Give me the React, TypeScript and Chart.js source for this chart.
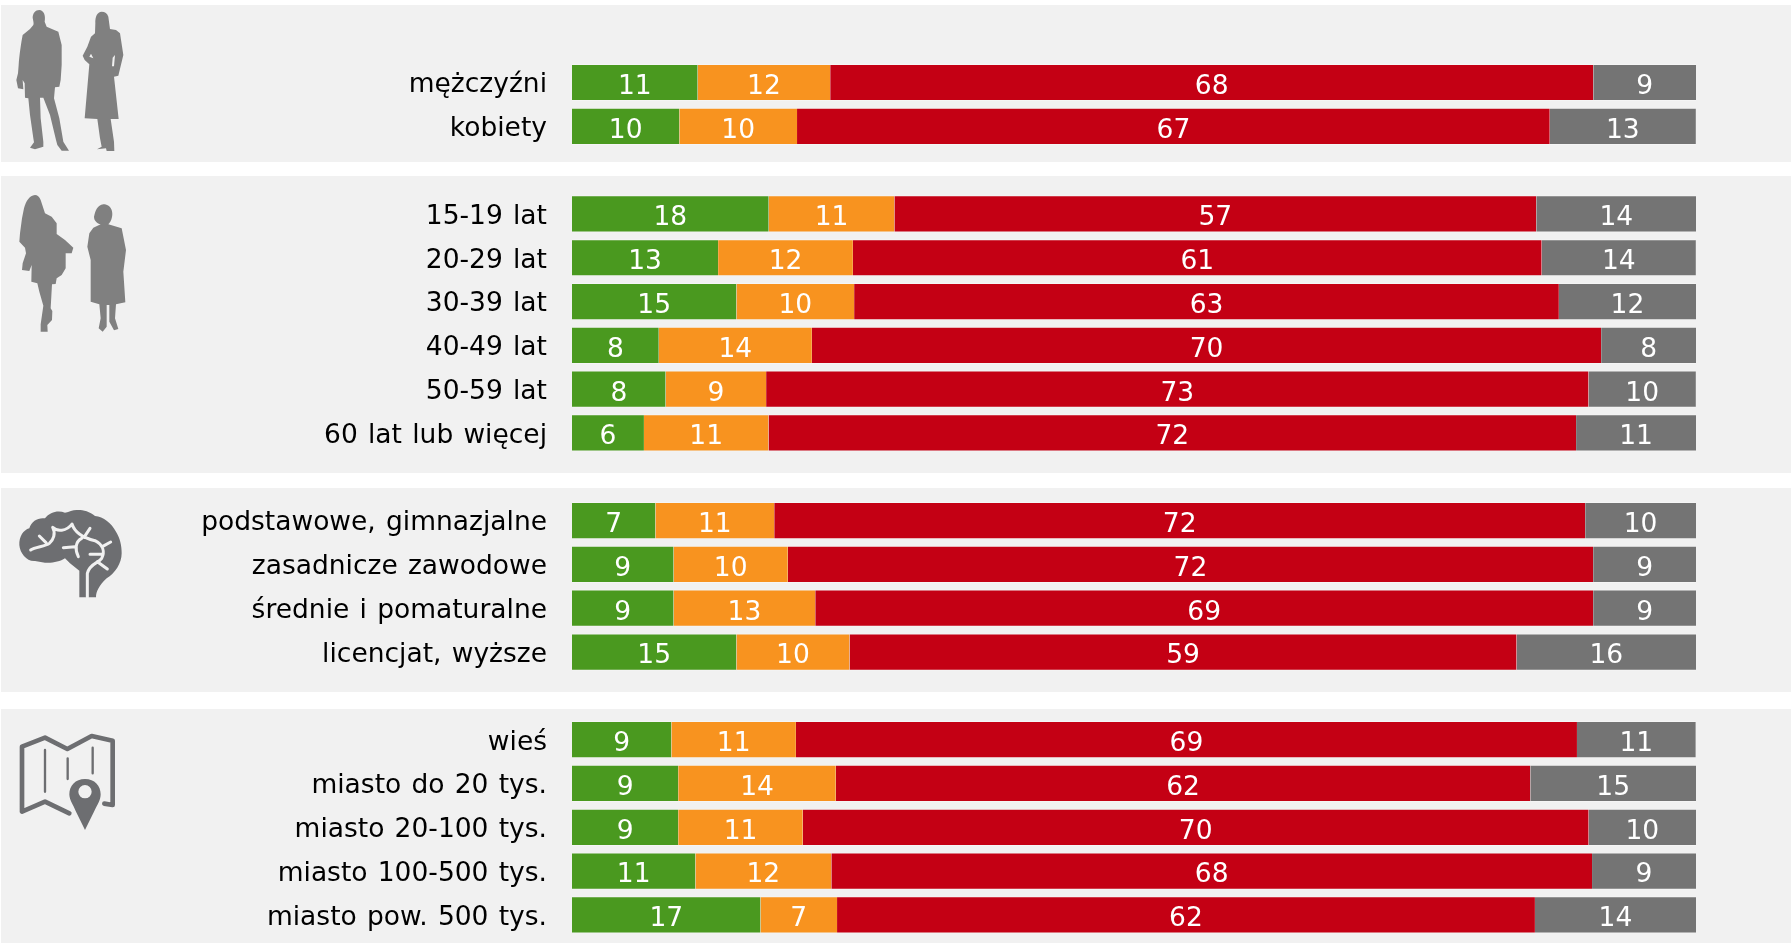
import React, { useEffect, useRef } from "react";
import { Chart, registerables } from "chart.js";

Chart.register(...registerables);

const categories = [
  "mężczyźni", "kobiety", "",
  "15-19 lat", "20-29 lat", "30-39 lat", "40-49 lat", "50-59 lat", "60 lat lub więcej", "",
  "podstawowe, gimnazjalne", "zasadnicze zawodowe", "średnie i pomaturalne", "licencjat, wyższe", "",
  "wieś", "miasto do 20 tys.", "miasto 20-100 tys.", "miasto 100-500 tys.", "miasto pow. 500 tys.",
];

const greenValues = [11.18, 9.55, null, 17.5, 13.0, 14.63, 7.72, 8.33, 6.4, null, 7.42, 9.04, 9.04, 14.63, null, 8.84, 9.45, 9.45, 10.98, 16.77];
const orangeValues = [11.79, 10.47, null, 11.18, 11.99, 10.47, 13.62, 8.94, 11.08, null, 10.57, 10.16, 12.6, 10.06, null, 11.08, 14.02, 11.08, 12.09, 6.81];
const redValues = [67.89, 66.97, null, 57.11, 61.28, 62.7, 70.22, 73.17, 71.85, null, 72.15, 71.65, 69.21, 59.35, null, 69.49, 61.79, 69.92, 67.68, 62.09];
const grayValues = [9.15, 13.0, null, 14.23, 13.72, 12.2, 8.44, 9.55, 10.67, null, 9.86, 9.15, 9.15, 15.96, null, 10.57, 14.74, 9.55, 9.25, 14.33];

const seriesColors = ["#4A991F", "#F8931F", "#C40014", "#747474"];
const FONT = "'DejaVu Sans', Verdana, sans-serif";
const PANEL = "#F1F1F1";
const ICON_A = "#808080";
const ICON_B = "#6D6E71";
const TICK_SHIFT = 3;

const panelBands = [
  [5, 162],
  [176, 473],
  [488, 692],
  [709, 943],
];

const manPath = "M88 15 C76 15 68 25 68 38 C70 50 72 55 70 60 L60 72 L38 90 C34 110 28 150 26 180 L24 205 L19 225 L24 250 L40 253 L38 225 L44 235 L45 278 L55 280 L60 330 L70 400 L72 412 L60 428 L75 433 L100 425 L100 410 L92 340 L90 278 L100 278 L120 330 L138 405 L142 420 L155 437 L177 437 L160 410 L148 340 L132 280 L135 247 L148 245 L152 225 L155 180 L155 120 L145 80 L110 65 L104 50 C108 30 100 15 88 15 Z";
const womanPath = "M275 20 C262 20 255 35 256 55 L255 85 L243 95 L232 125 L218 152 L224 165 L238 178 L224 340 L262 342 L270 400 L275 425 L261 433 L288 430 L290 438 L313 438 L312 410 L302 342 L326 342 L312 215 L325 212 L340 150 L330 85 L318 75 L300 72 L295 35 C292 25 285 20 275 20 Z M243 146 L238 155 L250 160 Z M315 150 L308 158 L306 184 L312 184 Z";
const girlPath = "M75 30 C58 32 48 48 42 70 L36 100 L30 145 L28 170 L45 188 L48 205 L38 235 L36 255 L58 258 L65 240 L64 290 L82 295 L88 320 L100 362 L92 418 L92 440 L113 440 L112 420 L126 405 L127 378 L122 370 L126 298 L137 297 L140 280 L155 270 L167 250 L167 205 L185 205 L190 188 L165 165 L140 147 L140 115 L125 95 L105 85 L92 45 C88 35 82 30 75 30 Z";
const oldWomanPath = "M280 58 C262 60 256 78 252 95 C252 108 262 115 272 118 L250 128 L238 145 L232 185 L242 225 L242 350 L268 358 L272 400 L266 430 L278 440 L290 425 L290 360 L298 360 L298 410 L312 436 L325 432 L315 400 L318 358 L346 352 L340 260 L348 195 L335 130 L295 118 C305 108 310 90 305 75 C300 62 290 58 280 58 Z";
const brainPath = "M205 30 C190 28 180 35 165 38 C145 30 120 35 105 55 C85 52 65 62 58 85 C40 90 27 110 28 135 C30 160 50 185 75 183 L105 188 C125 190 150 185 165 175 L180 190 L208 212 L208 292 L258 292 C258 275 268 255 290 235 C315 220 335 190 335 160 C335 135 330 115 318 95 C305 70 280 50 255 48 C240 35 220 30 205 30 Z";
const brainLines = "M62 150 C75 140 105 140 118 130 C130 120 138 100 128 82 C140 95 170 95 186 72 C195 100 225 115 255 122 C280 135 285 155 275 175 C265 190 240 190 232 220 L232 292 M88 108 L108 128 M205 170 C195 150 195 125 215 115 M160 143 L195 140 M222 112 L240 85 M240 163 L277 163 M277 140 L302 126 M262 185 L292 207";
const mapOutline = "M178 265 L105 230 L36 260 L36 65 L105 38 L172 72 L245 33 L308 47 L308 240 L283 236";
const mapFolds = "M105 75 L105 200 M173 100 L173 162 M248 68 L248 145";
const mapPin = "M225 162 C196 162 178 182 178 208 C178 225 190 240 197 258 L225 315 L253 258 C262 240 272 225 272 208 C272 182 254 162 225 162 Z M245 200 A20 20 0 1 0 205 200 A20 20 0 1 0 245 200 Z";

const decorPlugin = {
  id: "decor",
  beforeDraw(chart: any) {
    const { ctx, width } = chart;
    ctx.wordSpacing = "1.8px";
    ctx.save();
    ctx.fillStyle = PANEL;
    panelBands.forEach(([a, b]) => ctx.fillRect(1, a, width - 1, b - a));

    const inZoom = (x: number, y: number, draw: () => void) => {
      ctx.save();
      ctx.translate(x, y);
      ctx.scale(1 / 3, 1 / 3);
      draw();
      ctx.restore();
    };
    inZoom(10, 5, () => {
      ctx.fillStyle = ICON_A;
      ctx.fill(new Path2D(manPath));
      ctx.fill(new Path2D(womanPath), "evenodd");
    });
    inZoom(10, 185, () => {
      ctx.fillStyle = ICON_A;
      ctx.fill(new Path2D(girlPath));
      ctx.fill(new Path2D(oldWomanPath));
    });
    inZoom(10, 500, () => {
      ctx.fillStyle = ICON_B;
      ctx.fill(new Path2D(brainPath));
      ctx.strokeStyle = PANEL;
      ctx.lineWidth = 9;
      ctx.lineCap = "round";
      ctx.lineJoin = "round";
      ctx.stroke(new Path2D(brainLines));
    });
    inZoom(10, 725, () => {
      ctx.strokeStyle = ICON_B;
      ctx.lineWidth = 14;
      ctx.lineJoin = "round";
      ctx.lineCap = "round";
      ctx.stroke(new Path2D(mapOutline));
      ctx.lineWidth = 7;
      ctx.stroke(new Path2D(mapFolds));
      ctx.fillStyle = ICON_B;
      ctx.fill(new Path2D(mapPin), "evenodd");
    });
    ctx.restore();
  },
};

const valueLabelPlugin = {
  id: "valueLabels",
  afterDatasetsDraw(chart: any) {
    const { ctx } = chart;
    ctx.save();
    ctx.font = `26.5px ${FONT}`;
    ctx.fillStyle = "#FFFFFF";
    ctx.textAlign = "center";
    ctx.textBaseline = "middle";
    chart.data.datasets.forEach((ds: any, di: number) => {
      chart.getDatasetMeta(di).data.forEach((bar: any, i: number) => {
        const v = ds.data[i];
        if (v == null) return;
        const p = bar.getProps(["x", "y", "base"], true);
        ctx.fillText(String(Math.round(v)), (p.x + p.base) / 2, p.y + 4.5);
      });
    });
    ctx.restore();
  },
};

export default function App() {
  const ref = useRef<HTMLCanvasElement | null>(null);
  useEffect(() => {
    document.body.style.margin = "0";
    const series = [greenValues, orangeValues, redValues, grayValues];
    const chart = new Chart(ref.current as HTMLCanvasElement, {
      type: "bar",
      data: {
        labels: categories,
        datasets: series.map((data, i) => ({
          data,
          backgroundColor: seriesColors[i],
          borderColor: "rgba(255,255,255,0.3)",
          borderWidth: { top: 1, bottom: 1, left: 0, right: 0 },
          borderSkipped: false,
          categoryPercentage: 1,
          barPercentage: 0.85,
        })),
      },
      options: {
        indexAxis: "y",
        responsive: false,
        animation: false,
        layout: { padding: { top: 60.6, bottom: 6.2, right: 95, left: 0 } },
        plugins: { legend: { display: false }, tooltip: { enabled: false } },
        scales: {
          x: { stacked: true, min: 0, max: 100, display: false },
          y: {
            stacked: true,
            grid: { display: false, drawTicks: false },
            border: { display: false },
            afterFit: (s: any) => {
              s.width = 572;
              s.paddingTop = 0;
              s.paddingBottom = 0;
              if (!s.__shifted) {
                s.__shifted = true;
                const compute = s._computeLabelItems.bind(s);
                s._computeLabelItems = (area: any) =>
                  compute(area).map((item: any) => ({
                    ...item,
                    options: {
                      ...item.options,
                      translation: [item.options.translation[0], item.options.translation[1] + TICK_SHIFT],
                    },
                  }));
              }
            },
            ticks: {
              autoSkip: false,
              padding: 25,
              color: "#000000",
              font: { family: FONT, size: 26.5 },
            },
          },
        },
      },
      plugins: [decorPlugin, valueLabelPlugin],
    } as any);
    return () => chart.destroy();
  }, []);
  return (
    <div style={{ position: "absolute", left: 0, top: 0, width: 1791, height: 943 }}>
      <canvas ref={ref} width={1791} height={943} style={{ display: "block" }} />
    </div>
  );
}
